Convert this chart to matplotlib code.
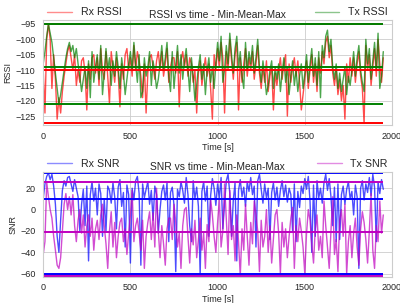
import numpy as np
import matplotlib
matplotlib.use('Agg')
import matplotlib.pyplot as plt
import seaborn as sns

# time axis (s), one sample every 10 s
time_s = list(range(0, 1960, 10))

rx_rssi = [
    -110, -124, -100, -95, -100, -116, -105, -113, -126, -119,
    -124, -117, -112, -108, -104, -102, -106, -110, -105, -115,
    -110, -114, -107, -106, -111, -123, -108, -113, -106, -105,
    -111, -106, -115, -103, -110, -113, -104, -112, -121, -104,
    -109, -114, -106, -111, -122, -108, -113, -105, -103, -110,
    -106, -112, -102, -110, -104, -107, -112, -119, -108, -124,
    -111, -106, -105, -109, -113, -107, -104, -110, -104, -112,
    -108, -103, -114, -109, -106, -106, -111, -104, -122, -107,
    -104, -109, -105, -112, -106, -108, -114, -110, -124, -111,
    -107, -115, -110, -106, -112, -108, -116, -126, -105, -110,
    -103, -109, -101, -106, -124, -104, -110, -100, -107, -113,
    -105, -101, -123, -106, -114, -108, -103, -112, -106, -110,
    -104, -113, -108, -102, -111, -116, -109, -114, -107, -117,
    -112, -109, -123, -111, -115, -110, -106, -113, -108, -105,
    -125, -108, -114, -109, -106, -112, -107, -114, -123, -118,
    -113, -107, -116, -110, -105, -114, -108, -117, -106, -111,
    -104, -108, -101, -99, -106, -102, -111, -115, -110, -118,
    -113, -120, -115, -126, -108, -114, -106, -112, -106, -114,
    -108, -104, -112, -116, -127.4, -102, -110, -105, -115, -109,
    -103, -112, -100, -108, -114, -106,
]

tx_rssi = [
    -108, -104, -99, -95, -98, -101, -106, -111, -116, -121,
    -118, -114, -110, -106, -103, -101, -104, -102, -106, -103,
    -108, -112, -117, -113, -109, -116, -107, -119, -104, -114,
    -109, -105, -113, -102, -118, -111, -103, -110, -106, -115,
    -107, -112, -104, -109, -116, -106, -111, -118, -113, -108,
    -104, -110, -101, -108, -114, -105, -119, -117, -106, -112,
    -109, -104, -115, -107, -111, -116, -113, -108, -102, -110,
    -106, -101, -112, -117, -104, -116, -109, -102, -111, -105,
    -113, -107, -103, -110, -117, -106, -112, -120, -115, -109,
    -105, -113, -108, -118, -110, -106, -114, -109, -116, -108,
    -101, -107, -99, -114, -110, -102, -108, -98, -105, -111,
    -103, -99, -109, -104, -112, -116, -101, -110, -104, -108,
    -102, -111, -106, -100, -109, -114, -107, -112, -118, -115,
    -110, -107, -116, -109, -113, -108, -117, -111, -106, -114,
    -109, -118, -112, -107, -115, -110, -117, -112, -108, -116,
    -111, -105, -114, -108, -103, -112, -106, -115, -104, -119,
    -102, -106, -99, -97, -104, -100, -109, -113, -108, -116,
    -111, -117, -113, -109, -118, -112, -115, -110, -104, -112,
    -106, -102, -110, -114, -117, -100, -108, -103, -113, -107,
    -101, -110, -98, -116, -112, -104,
]

rx_snr = [
    10, 24, 31, 34.3, 28, 33, 22, 5, -25, -40,
    -10, 18, 27, 22, 30, 31, 24, 17, 28, 20,
    12, -20, 5, 19, -15, 22, -48, 14, 26, 8,
    20, -5, 24, 15, -25, 10, -20, 22, 18, 6,
    25, 12, -18, 21, 28, 3, 16, -35, 23, 14,
    -50, 20, 9, 27, 31, 15, -52, 24, 11, 19,
    26, 5, 18, -10, 22, 14, -22, 0, 17, 23,
    9, 25, -30, 16, 21, 4, -58, 19, 12, 26,
    18, 6, 30, 14, -15, -30, 27, 10, 21, 3,
    -60.3, 17, 26, 8, 22, -25, 13, 29, 20, 4,
    24, 11, 30, -18, 6, 27, 33, 15, -25, 9,
    25, -48, 18, 28, 12, 21, 3, 26, 17, 30,
    14, 22, -35, 27, 33, 19, 6, 24, 11, 20,
    -28, 16, 25, 9, 21, 3, 18, 27, 12, 23,
    7, 20, 14, -20, 24, -30, 17, 2, 22, 15,
    29, 19, 31, 8, -40, 23, -25, 27, 11, 20,
    6, 25, 33, 18, 29, 12, -15, 21, -30, 24,
    -28, 14, 22, 5, 19, 26, 10, 17, -5, 23,
    12, -55, 20, 27, 9, 24, 16, 30, 13, 33,
    21, -30, 26, 15, 28, 19,
]

tx_snr = [
    -42, -30, 25.6, 12, 0, -8, -25, -38, -52, -55,
    -45, -20, 5, 15, 0, 12, -5, 14, -15, -30,
    -10, 0, -22, -5, -35, -15, -5, -25, -8, -38,
    -18, -10, -28, -5, 5, -15, -32, -55, -20, -2,
    -35, -12, -45, -25, -12, -8, -30, -18, -42, -22,
    -5, 18, -30, -15, -8, -22, -38, -10, -55, -25,
    -12, -2, -28, -3, -35, 20, -20, -45, -15, -32,
    -52, -18, -8, -8, -28, 5, -12, -35, -22, -55,
    -15, 0, 2, -25, -50, -18, -33, -10, -45, -28,
    -8, -38, -22, -55, -14, -30, 10, -5, -25, -40,
    -12, 10, -35, -20, 24, -8, -42, 18, -28, -15,
    -48, -5, -30, -62.2, -18, -38, 5, -25, -52, -12,
    -32, 8, -5, -20, -58, -10, -35, -25, 0, -40,
    -15, -50, -28, -5, 0, -22, -60, -12, -35, -18,
    -45, -25, -8, 2, -55, -15, -30, -8, -20, -35,
    -60, -22, 0, -10, -32, -50, -18, -5, -38, -25,
    -45, 8, -15, -35, -55, -20, 12, -42, -28, -58,
    -10, 0, -25, 5, -60, -30, -15, -45, -22, -8,
    -35, -52, -18, -2, -12, -28, -50, -20, 15, -38,
    -55, -15, -30, 8, -22, -5,
]

sns.set_style('whitegrid')
plt.rcParams['font.family'] = ['Liberation Sans', 'DejaVu Sans']
plt.rcParams['font.size'] = 6.5
plt.rcParams['axes.edgecolor'] = '.8'
plt.rcParams['axes.linewidth'] = 0.8
plt.rcParams['grid.linewidth'] = 0.6
plt.rcParams['xtick.major.pad'] = 1
plt.rcParams['ytick.major.pad'] = 2
plt.rcParams['axes.labelpad'] = 2


def plot_min_mean_max(ax, t, a, b, col_a, col_b, name_a, name_b, title, ylabel):
    ax.plot(t, a, color=col_a, alpha=0.7, lw=1.0, label=name_a)
    ax.plot(t, b, color=col_b, alpha=0.7, lw=1.0, label=name_b)
    for vals, col in ((a, col_a), (b, col_b)):
        v = np.array(vals)
        ax.hlines([v.min(), v.mean(), v.max()], t[0], t[-1], colors=col, lw=1.4)
    ax.set_title(title, fontsize=7.4, pad=1.5)
    ax.set_xlabel('Time [s]')
    ax.set_ylabel(ylabel)
    ax.set_xlim(0, 2000)
    ax.set_xticks([0, 500, 1000, 1500, 2000])
    leg = ax.legend(bbox_to_anchor=(0., 0.985, 1., .102), loc='lower left', ncol=2,
                    mode='expand', borderaxespad=0., fontsize=7.7, handlelength=2.3,
                    frameon=False)
    for h in leg.get_lines():
        h.set_alpha(0.45)


fig, (ax1, ax2) = plt.subplots(2, 1, figsize=(4, 3.03), dpi=100)

plot_min_mean_max(ax1, time_s, rx_rssi, tx_rssi, 'red', 'green', 'Rx RSSI', 'Tx RSSI',
                  'RSSI vs time - Min-Mean-Max', 'RSSI')
ax1.set_ylim(-128, -93.7)
ax1.set_yticks([-95, -100, -105, -110, -115, -120, -125])

plot_min_mean_max(ax2, time_s, rx_snr, tx_snr, 'blue', 'm', 'Rx SNR', 'Tx SNR',
                  'SNR vs time - Min-Mean-Max', 'SNR')
ax2.set_ylim(-63, 35.5)
ax2.set_yticks([20, 0, -20, -40, -60])

plt.subplots_adjust(left=0.108, right=0.98, top=0.934, bottom=0.086, hspace=0.44)
fig.savefig('out.png')
